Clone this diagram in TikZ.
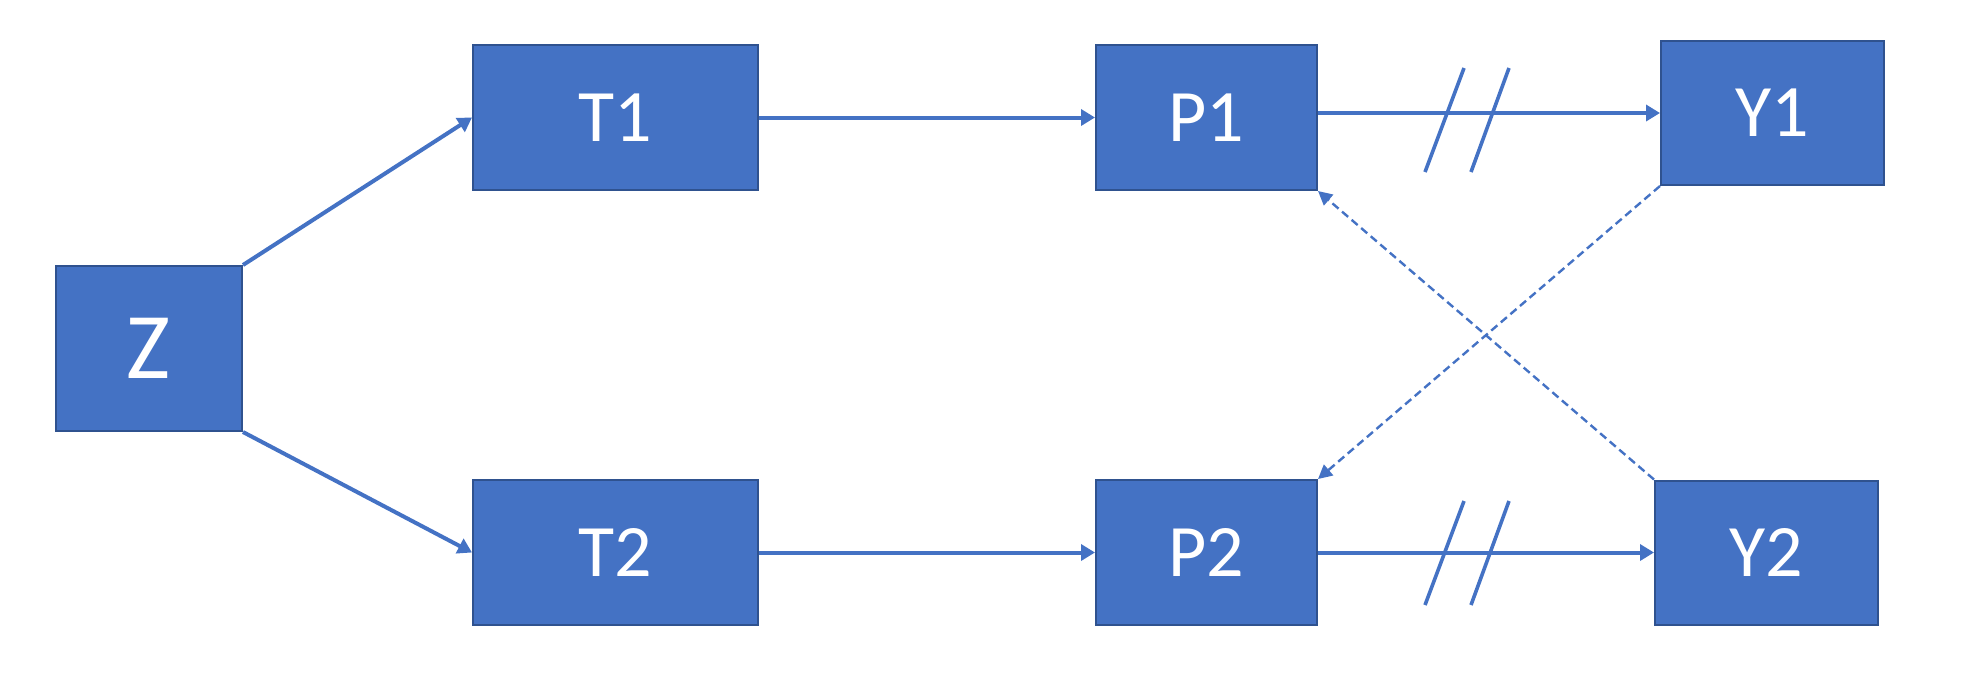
\documentclass[tikz,border=0pt]{standalone}
\usepackage{fontspec}
\setmainfont{Carlito}
\usetikzlibrary{arrows.meta}
\definecolor{boxfill}{HTML}{4472C4}
\definecolor{boxline}{HTML}{2F528F}
\definecolor{linkblue}{HTML}{4472C4}
\begin{document}
\begin{tikzpicture}[x=0.5pt,y=-0.5pt,
  box/.style={draw=boxline, line width=1pt, fill=boxfill, text=white,
    inner sep=0pt, font=\fontsize{37}{40}\selectfont},
  zbox/.style={box, minimum width=93pt, minimum height=82.5pt,
    font=\fontsize{47}{50}\selectfont},
  tbox/.style={box, minimum width=142.5pt, minimum height=72.5pt},
  pbox/.style={box, minimum width=110.5pt, minimum height=72.5pt},
  ybox/.style={box, minimum width=111.5pt, minimum height=72pt},
  link/.style={draw=linkblue, line width=2pt, -{Triangle[length=7pt,width=8pt]}},
  dlink/.style={draw=linkblue, line width=1.2pt, dash pattern=on 4pt off 2.3pt,
    -{Triangle[length=7pt,width=7pt]}},
  cutmark/.style={draw=linkblue, line width=1.8pt}
]
\useasboundingbox (0,0) rectangle (1970,692);

% boxes
\node[zbox] (Z)  at (149,348.5)   {Z};
\node[tbox] (T1) at (615.5,117.5) {T1};
\node[tbox] (T2) at (615.5,552.5) {T2};
\node[pbox] (P1) at (1206.5,117.5) {P1};
\node[pbox] (P2) at (1206.5,552.5) {P2};
\node[ybox] (Y1) at (1772.5,113)  {Y1};
\node[ybox] (Y2) at (1766.5,552.5) {Y2};

% solid links
\draw[link] (Z.north east) -- (T1.west);
\draw[link] (Z.south east) -- (T2.west);
\draw[link] (T1.east) -- (P1.west);
\draw[link] (T2.east) -- (P2.west);
\draw[link] (P1.east |- Y1.west) -- (Y1.west);
\draw[link] (P2.east) -- (Y2.west);

% dashed cross links
\draw[dlink] (Y1.south west) -- (P2.north east);
\draw[dlink] (Y2.north west) -- (P1.south east);

% double slash marks on the P-Y links
\draw[cutmark] (1464,68) -- (1425,172);
\draw[cutmark] (1509,68) -- (1471,172);
\draw[cutmark] (1464,501) -- (1425,605);
\draw[cutmark] (1509,501) -- (1471,605);
\end{tikzpicture}
\end{document}
